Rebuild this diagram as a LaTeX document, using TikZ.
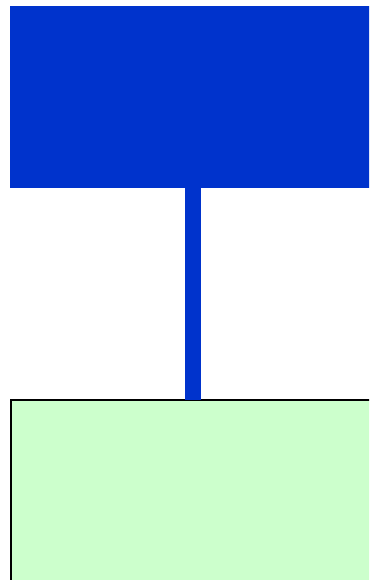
\documentclass[tikz,border=0pt]{standalone}
\begin{document}
\begin{tikzpicture}[x=1pt,y=-1pt,
  topbox/.style={fill=blueA,draw=none,inner sep=0pt,outer sep=0pt},
  bottombox/.style={fill=greenA,draw=black,line width=1.6pt,inner sep=0pt,outer sep=0pt},
  stem/.style={draw=blueA,line width=15.5pt,line cap=butt}]
\definecolor{blueA}{RGB}{0,51,204}
\definecolor{greenA}{RGB}{204,255,204}
\useasboundingbox (0,0) rectangle (369,580);
\clip (0,0) rectangle (369,580);
\fill[white] (0,0) rectangle (369,580);
\node[topbox,minimum width=362pt,minimum height=182pt,anchor=north west] (top) at (10,6) {};
\node[bottombox,minimum width=364pt,minimum height=186pt,anchor=north west] (bottom) at (10.8,399.8) {};
\coordinate (s1) at (192.8,188);
\coordinate (s2) at (192.8,399);
\draw[stem] (s1 |- top.south) -- (s2 |- bottom.north);
\end{tikzpicture}
\end{document}
